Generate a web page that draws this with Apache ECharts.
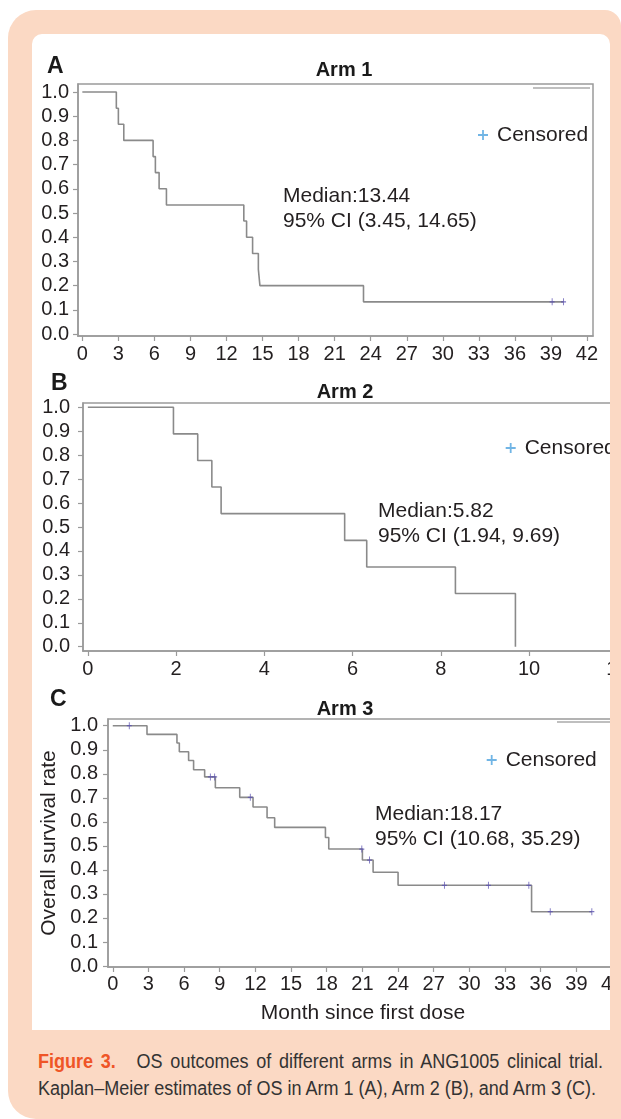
<!DOCTYPE html>
<html>
<head>
<meta charset="utf-8">
<script src="https://cdn.jsdelivr.net/npm/echarts@6/dist/echarts.min.js"></script>
<style>
  html, body { margin: 0; padding: 0; background: #ffffff; width: 621px; height: 1119px; overflow: hidden; }
  #peach { position: absolute; left: 8px; top: 10px; width: 613px; height: 1109px; background: #fbd9c4;
           border-radius: 28px 16px 0 28px; }
  #panel { position: absolute; left: 32px; top: 34px; width: 578px; height: 996px; background: #ffffff;
           border-radius: 10px 10px 0 0; overflow: hidden; }
  #chart { position: absolute; left: -32px; top: -34px; width: 700px; height: 1119px; }
  #caption { position: absolute; left: 38px; top: 1048px; width: 700px;
             font-family: 'Liberation Sans', Arial, sans-serif;
             font-size: 19.5px; line-height: 27px; color: #333333; }
  #caption .line { display: inline-block; white-space: nowrap; transform-origin: 0 0; }
  #caption .fig { color: #ef5527; font-weight: bold; margin-right: 14px; }
</style>
</head>
<body>
<div id="peach"></div>
<div id="panel"><div id="chart"></div></div>
<div id="caption">
  <span class="line" id="cap1"><span class="fig">Figure 3.</span> OS outcomes of different arms in ANG1005 clinical trial.</span><br>
  <span class="line" id="cap2">Kaplan–Meier estimates of OS in Arm 1 (A), Arm 2 (B), and Arm 3 (C).</span>
</div>
<script>
// ---------------- data ----------------
const arm1Time = [0, 2.83, 3.0, 3.45, 5.89, 6.08, 6.39, 7.0, 13.44, 13.67, 14.17, 14.65, 14.78, 23.4, 40.05];
const arm1Surv = [1.0, 0.933, 0.867, 0.8, 0.733, 0.667, 0.6, 0.533, 0.467, 0.4, 0.333, 0.267, 0.2, 0.133, 0.133];
const arm1CensorTime = [39.1, 40.05];
const arm1CensorSurv = [0.133, 0.133];

const arm2Time = [0, 1.94, 2.49, 2.81, 3.02, 5.82, 6.32, 8.33, 9.69];
const arm2Surv = [1.0, 0.889, 0.778, 0.667, 0.556, 0.444, 0.333, 0.222, 0.0];
const arm2CensorTime = [];
const arm2CensorSurv = [];

const arm3Time = [0, 2.88, 5.4, 5.6, 6.38, 6.8, 7.73, 8.63, 10.68, 11.8, 12.98, 13.62, 17.89, 18.17, 21.0, 21.9, 24.0, 35.23, 40.3];
const arm3Surv = [1.0, 0.964, 0.928, 0.892, 0.855, 0.817, 0.787, 0.742, 0.702, 0.662, 0.617, 0.577, 0.535, 0.487, 0.441, 0.39, 0.336, 0.226, 0.226];
const arm3CensorTime = [1.39, 8.21, 8.57, 11.57, 20.95, 21.6, 27.9, 31.6, 35.0, 36.8, 40.3];
const arm3CensorSurv = [1.0, 0.787, 0.787, 0.702, 0.487, 0.441, 0.336, 0.336, 0.336, 0.226, 0.226];

const yTicks = [0, 0.1, 0.2, 0.3, 0.4, 0.5, 0.6, 0.7, 0.8, 0.9, 1.0];
const xTicksArm1 = [0, 3, 6, 9, 12, 15, 18, 21, 24, 27, 30, 33, 36, 39, 42];
const xTicksArm2 = [0, 2, 4, 6, 8, 10, 12];
const xTicksArm3 = [0, 3, 6, 9, 12, 15, 18, 21, 24, 27, 30, 33, 36, 39, 42];

const panelLetters = ['A', 'B', 'C'];
const panelTitles = ['Arm 1', 'Arm 2', 'Arm 3'];
const medianTexts = ['Median:13.44', 'Median:5.82', 'Median:18.17'];
const ciTexts = ['95% CI (3.45, 14.65)', '95% CI (1.94, 9.69)', '95% CI (10.68, 35.29)'];
const censorLabel = 'Censored';
const yAxisTitle = 'Overall survival rate';
const xAxisTitle = 'Month since first dose';

// ---------------- layout / style ----------------
const FONT = "'Liberation Sans', Arial, Helvetica, sans-serif";
const TXT = '#231f20';
const FRAME = '#9a9a9a';
const CURVE = '#8a8a8a';
const CENSOR = '#5a50b0';
const LEGEND_PLUS = '#4da3df';
const plusPath = 'path://M-0.18,-1 L0.18,-1 L0.18,-0.18 L1,-0.18 L1,0.18 L0.18,0.18 L0.18,1 L-0.18,1 L-0.18,0.18 L-1,0.18 L-1,-0.18 L-0.18,-0.18 Z';

const panels = [
  { grid: { left: 78, top: 84, width: 515, height: 252 }, xMin: -0.36, xMax: 42.5, yMin: -0.008, yMax: 1.033,
    xTicks: xTicksArm1, yLabelMargin: 9, xLabelMargin: 8,
    letter: [47, 66.5], title: [344, 70], median: [283, 196], legend: [478, 123], legLine: [533, 590, 88],
    time: arm1Time, surv: arm1Surv, cT: arm1CensorTime, cS: arm1CensorSurv, yName: '', yNameGap: 0 },
  { grid: { left: 83, top: 403, width: 552, height: 248 }, xMin: -0.11, xMax: 12.4, yMin: -0.018, yMax: 1.018,
    xTicks: xTicksArm2, yLabelMargin: 13, xLabelMargin: 8,
    letter: [51, 384], title: [345, 392.5], median: [378, 511.7], legend: [505.7, 436], legLine: null,
    time: arm2Time, surv: arm2Surv, cT: arm2CensorTime, cS: arm2CensorSurv, yName: yAxisTitle, yNameGap: 50 },
  { grid: { left: 108, top: 719, width: 510, height: 248 }, xMin: -0.4, xMax: 42.5, yMin: -0.004, yMax: 1.028,
    xTicks: xTicksArm3, yLabelMargin: 10, xLabelMargin: 7,
    letter: [50, 700], title: [345, 709], median: [375, 814], legend: [486.7, 748], legLine: [557, 614, 722],
    time: arm3Time, surv: arm3Surv, cT: arm3CensorTime, cS: arm3CensorSurv, yName: yAxisTitle, yNameGap: 43 }
];

const grid = [], xAxis = [], yAxis = [], series = [], legend = [], graphic = [];

panels.forEach((p, i) => {
  grid.push(Object.assign({ show: true, borderColor: FRAME, borderWidth: 1.5, backgroundColor: 'transparent' }, p.grid));
  xAxis.push({
    type: 'value', gridIndex: i, min: p.xMin, max: p.xMax,
    name: i === 2 ? xAxisTitle : '', nameLocation: 'middle', nameGap: 36,
    nameTextStyle: { fontFamily: FONT, fontSize: 21, color: TXT },
    axisLine: { show: true, onZero: false, lineStyle: { color: FRAME, width: 1.5 } },
    axisTick: { show: true, length: 5, lineStyle: { color: FRAME, width: 1.2 }, customValues: p.xTicks },
    axisLabel: { show: true, customValues: p.xTicks, margin: p.xLabelMargin, fontFamily: FONT, fontSize: 20, color: TXT,
                 formatter: v => String(Math.round(v)) },
    splitLine: { show: false }
  });
  yAxis.push({
    type: 'value', gridIndex: i, min: p.yMin, max: p.yMax,
    name: p.yName, nameLocation: 'middle', nameGap: p.yNameGap, nameRotate: 90,
    nameTextStyle: { fontFamily: FONT, fontSize: 21, color: TXT },
    axisLine: { show: true, onZero: false, lineStyle: { color: FRAME, width: 1.5 } },
    axisTick: { show: true, length: 5, lineStyle: { color: FRAME, width: 1.2 }, customValues: yTicks },
    axisLabel: { show: true, customValues: yTicks, margin: p.yLabelMargin, fontFamily: FONT, fontSize: 20, color: TXT,
                 formatter: v => Number(v).toFixed(1) },
    splitLine: { show: false }
  });
  series.push({
    type: 'line', name: 'Survival', xAxisIndex: i, yAxisIndex: i, step: 'end', symbol: 'none', silent: true,
    lineStyle: { color: CURVE, width: 1.6 }, z: 3,
    data: p.time.map((t, k) => [t, p.surv[k]])
  });
  series.push({
    type: 'scatter', name: censorLabel, xAxisIndex: i, yAxisIndex: i, symbol: plusPath, symbolSize: [5, 7],
    itemStyle: { color: CENSOR }, silent: true, z: 4,
    data: p.cT.map((t, k) => [t, p.cS[k]])
  });
  legend.push({
    left: p.legend[0], top: p.legend[1], padding: 0, itemWidth: 10, itemHeight: 10, selectedMode: false,
    data: [{ name: censorLabel, icon: plusPath, itemStyle: { color: LEGEND_PLUS } }],
    textStyle: { fontFamily: FONT, fontSize: 21, color: TXT, lineHeight: 24, padding: [0, 0, 0, 4] }
  });
  graphic.push({ type: 'text', x: p.letter[0], y: p.letter[1],
    style: { text: panelLetters[i], font: 'bold 23px ' + FONT, fill: '#1a1a1a', textVerticalAlign: 'middle' } });
  graphic.push({ type: 'text', x: p.title[0], y: p.title[1],
    style: { text: panelTitles[i], font: 'bold 20px ' + FONT, fill: '#1a1a1a', textAlign: 'center', textVerticalAlign: 'middle' } });
  graphic.push({ type: 'text', x: p.median[0], y: p.median[1],
    style: { text: medianTexts[i], font: '21px ' + FONT, fill: TXT, textVerticalAlign: 'middle' } });
  graphic.push({ type: 'text', x: p.median[0], y: p.median[1] + 25,
    style: { text: ciTexts[i], font: '21px ' + FONT, fill: TXT, textVerticalAlign: 'middle' } });
  if (p.legLine) {
    graphic.push({ type: 'line', shape: { x1: p.legLine[0], y1: p.legLine[2], x2: p.legLine[1], y2: p.legLine[2] },
      style: { stroke: '#aaaaaa', lineWidth: 1.5 } });
  }
});

const chart = echarts.init(document.getElementById('chart'), null, { renderer: 'canvas' });
chart.setOption({ animation: false, backgroundColor: 'transparent', grid, xAxis, yAxis, series, legend, graphic });

// condensed caption: one common horizontal scale (from line 2), line 1 justified with word spacing
const cap1 = document.getElementById('cap1');
const cap2 = document.getElementById('cap2');
const scale = 558 / cap2.getBoundingClientRect().width;
const need1 = 565 / scale;
const nat1 = cap1.getBoundingClientRect().width;
const spaces1 = (cap1.textContent.trim().match(/ /g) || []).length;
if (need1 > nat1 && spaces1 > 0) cap1.style.wordSpacing = ((need1 - nat1) / spaces1) + 'px';
cap1.style.transform = 'scaleX(' + (565 / cap1.getBoundingClientRect().width) + ')';
cap2.style.transform = 'scaleX(' + scale + ')';
</script>
</body>
</html>
